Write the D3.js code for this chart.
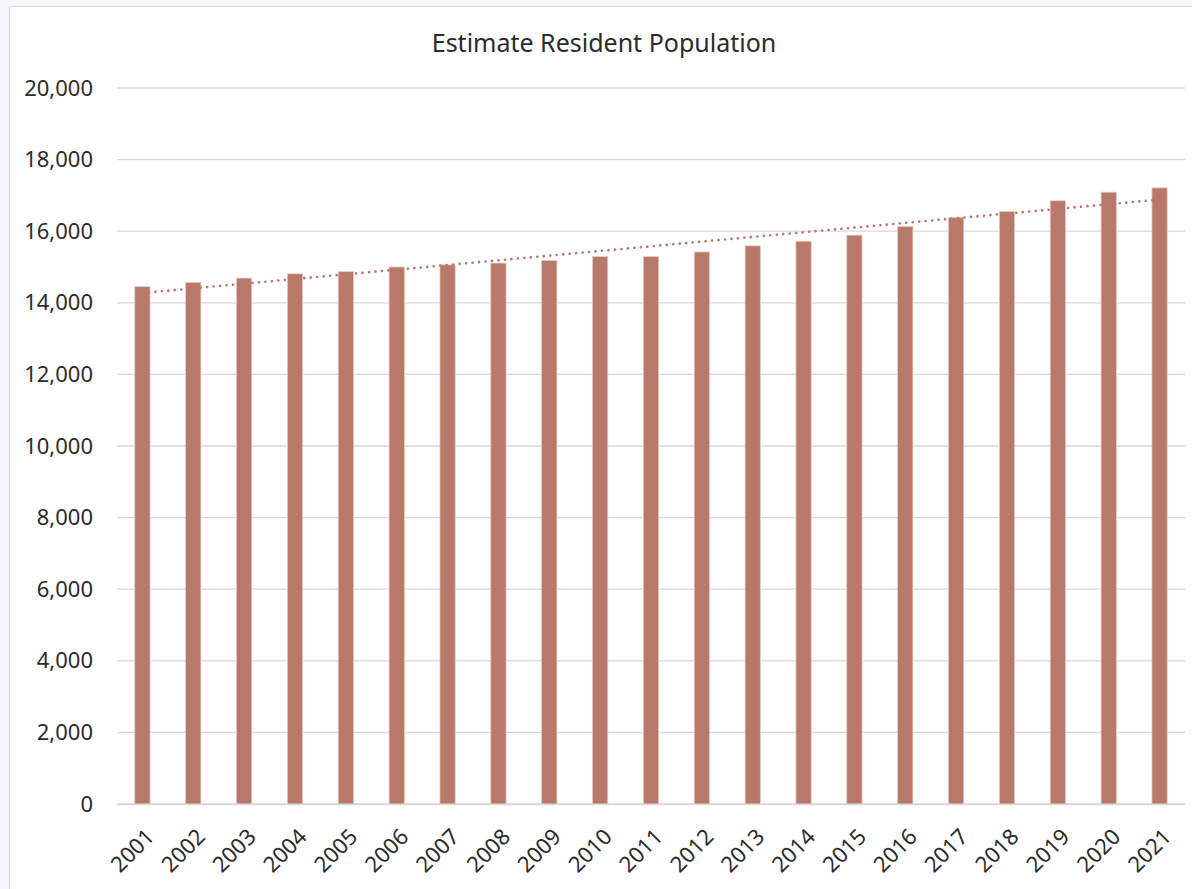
<!DOCTYPE html>
<html>
<head>
<meta charset="utf-8">
<script src="https://cdn.jsdelivr.net/npm/d3@7"></script>
<style>
  body { margin: 0; background: #f5f6f8; }
  svg { display: block; }
</style>
</head>
<body>
<script>
// chart data
var years = ["2001", "2002", "2003", "2004", "2005", "2006", "2007", "2008", "2009", "2010", "2011",
             "2012", "2013", "2014", "2015", "2016", "2017", "2018", "2019", "2020", "2021"];
var population = [14450, 14570, 14690, 14810, 14870, 15000, 15060, 15110, 15180, 15290, 15290,
                  15420, 15590, 15720, 15890, 16130, 16380, 16550, 16850, 17090, 17210];
var yTicks = [0, 2000, 4000, 6000, 8000, 10000, 12000, 14000, 16000, 18000, 20000];

var svgWidth = 1192;
var svgHeight = 889;
var margin = { top: 88, right: 7, bottom: 85, left: 117 };
var chartWidth = svgWidth - margin.left - margin.right;
var chartHeight = svgHeight - margin.top - margin.bottom;
var barColor = "#b8786a";
var font = "'Noto Sans', sans-serif";
var textColor = "#2b2b2b";

var svg = d3.select("body")
  .append("svg")
    .attr("width", svgWidth)
    .attr("height", svgHeight);

// chart area background and border
svg.append("rect")
  .attr("x", 9.5)
  .attr("y", 6.5)
  .attr("width", svgWidth)
  .attr("height", svgHeight)
  .style("fill", "white")
  .style("stroke", "#d9d9d9");

var g = svg.append("g")
  .attr("transform", "translate(" + margin.left + "," + margin.top + ")");

var x = d3.scaleBand().domain(years).range([0, chartWidth]).paddingInner(0.7).paddingOuter(0.35);
var y = d3.scaleLinear().domain([0, 20000]).range([chartHeight, 0]);

// gridlines
g.selectAll(".grid")
  .data(yTicks)
  .enter()
  .append("line")
    .attr("x1", 0)
    .attr("x2", chartWidth)
    .attr("y1", function(d) { return y(d); })
    .attr("y2", function(d) { return y(d); })
    .style("stroke", "#d9d9d9")
    .style("stroke-width", 1.3);

// y axis labels
var leftAxis = d3.axisLeft(y).tickValues(yTicks).tickSize(0).tickPadding(24).tickFormat(d3.format(","));
g.append("g")
  .call(leftAxis)
  .call(function(a) { a.select(".domain").remove(); })
  .selectAll("text")
    .style("font-family", font)
    .style("font-size", "22px")
    .style("fill", textColor);

// bars
g.selectAll(".bar")
  .data(population)
  .enter()
  .append("rect")
    .attr("x", function(d, i) { return x(years[i]); })
    .attr("y", function(d) { return y(d); })
    .attr("width", x.bandwidth())
    .attr("height", function(d) { return chartHeight - y(d); })
    .style("fill", barColor)
    .style("stroke", "#e6cbc4")
    .style("stroke-width", 0.8);

// x axis
var bottomAxis = d3.axisBottom(x).tickSize(0).tickPadding(0);
var xAxis = g.append("g")
  .attr("transform", "translate(0," + chartHeight + ")")
  .call(bottomAxis);
xAxis.select(".domain").style("stroke", "#d9d9d9").style("stroke-width", 1.3);
xAxis.selectAll("text")
  .attr("dy", null)
  .attr("y", 0)
  .attr("transform", "translate(9,30) rotate(-45)")
  .style("text-anchor", "end")
  .style("dominant-baseline", "middle")
  .style("font-family", font)
  .style("font-size", "22px")
  .style("fill", textColor);

// linear trendline
var n = population.length;
var xs = d3.range(1, n + 1);
var mx = d3.mean(xs), my = d3.mean(population);
var slope = d3.sum(xs, function(v, i) { return (v - mx) * (population[i] - my); }) /
            d3.sum(xs, function(v) { return (v - mx) * (v - mx); });
var intercept = my - slope * mx;
var trend = [xs[0], xs[n - 1]];

g.append("path")
  .datum(trend)
  .attr("d", d3.line()
    .x(function(v) { return x(years[v - 1]) + x.bandwidth() / 2; })
    .y(function(v) { return y(intercept + slope * v); }))
  .style("fill", "none")
  .style("stroke", barColor)
  .style("stroke-width", 2.6)
  .style("stroke-linecap", "round")
  .style("stroke-dasharray", "0.1 6.4");

// title
svg.append("text")
  .attr("x", 604)
  .attr("y", 52)
  .attr("text-anchor", "middle")
  .style("font-family", font)
  .style("font-size", "25px")
  .style("fill", textColor)
  .text("Estimate Resident Population");
</script>
</body>
</html>
